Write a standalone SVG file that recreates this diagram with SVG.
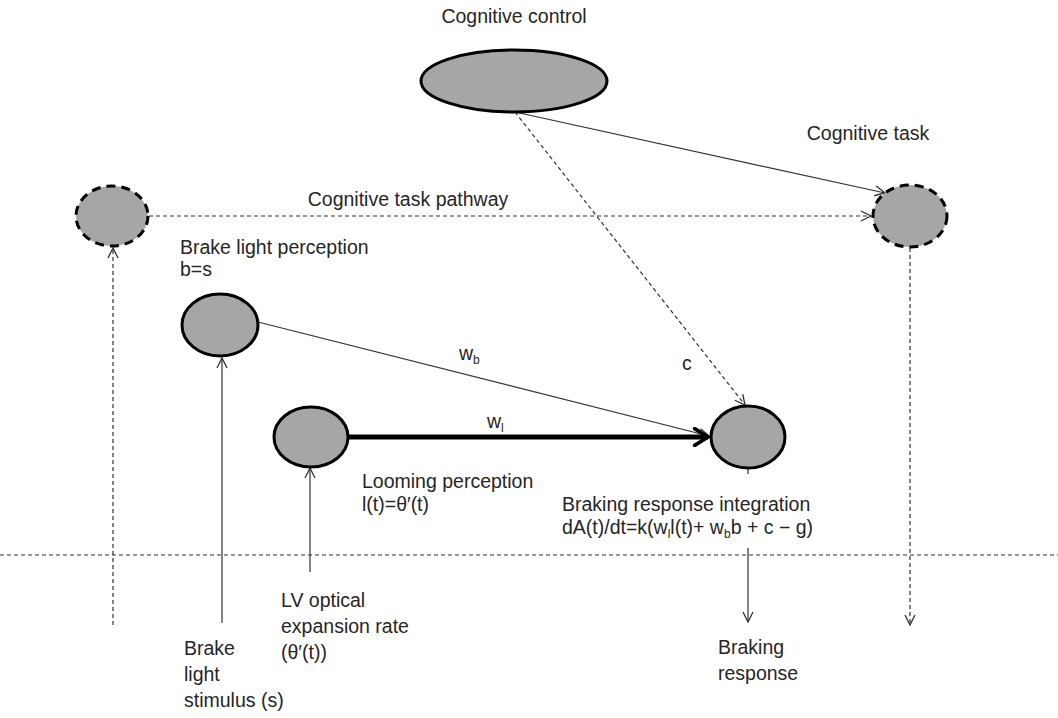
<svg xmlns="http://www.w3.org/2000/svg" width="1058" height="718" viewBox="0 0 1058 718">
  <style>
    text { font-family: "Liberation Sans", "DejaVu Sans", sans-serif; font-size: 19.5px; fill: #262626; }
    .sub { font-size: 12px; }
    .node { fill: #a6a6a6; stroke: #000; stroke-width: 3; }
    .dnode { fill: #a6a6a6; stroke: #000; stroke-width: 3; stroke-dasharray: 9 6; }
    .thin { fill: none; stroke: #333; stroke-width: 1.2; }
    .dash { fill: none; stroke: #333; stroke-width: 1.2; stroke-dasharray: 4 3; }
    .thick { fill: none; stroke: #000; stroke-width: 5; }
  </style>
  <defs>
    <marker id="open" viewBox="0 0 12 12" refX="11" refY="6" markerWidth="12" markerHeight="12" markerUnits="userSpaceOnUse" orient="auto">
      <path d="M1 1 L11 6 L1 11" fill="none" stroke="#333" stroke-width="1.3"/>
    </marker>
    <marker id="openBold" viewBox="0 0 12 12" refX="10" refY="6" markerWidth="4" markerHeight="4" orient="auto">
      <path d="M2 1 L10 6 L2 11" fill="none" stroke="#000" stroke-width="2.2" stroke-linecap="round"/>
    </marker>
  </defs>

  <!-- separator between model and environment -->
  <line x1="0" y1="555" x2="1058" y2="555" class="dash"/>

  <g id="connectors">
    <line x1="149" y1="216" x2="871" y2="216" class="dash" marker-end="url(#open)"/>
    <line x1="515" y1="112" x2="885" y2="193" class="thin" marker-end="url(#open)"/>
    <line x1="515" y1="112" x2="745" y2="405" class="dash" marker-end="url(#open)"/>
    <line x1="258" y1="322" x2="709" y2="436" class="thin" marker-end="url(#open)"/>
    <line x1="348" y1="437" x2="708" y2="437" class="thick" marker-end="url(#openBold)"/>
    <line x1="113" y1="625" x2="113" y2="248" class="dash" marker-end="url(#open)"/>
    <line x1="222" y1="623" x2="222" y2="358" class="thin" marker-end="url(#open)"/>
    <line x1="310" y1="572" x2="310" y2="468" class="thin" marker-end="url(#open)"/>
    <line x1="748" y1="468" x2="748" y2="474" class="thin"/>
    <line x1="748" y1="548" x2="748" y2="622" class="thin" marker-end="url(#open)"/>
    <line x1="910" y1="248" x2="910" y2="625" class="dash" marker-end="url(#open)"/>
    <text x="459" y="360">w<tspan class="sub" dy="4">b</tspan></text>
    <text x="487" y="428">w<tspan class="sub" dy="4">l</tspan></text>
    <text x="682" y="370">c</text>
  </g>

  <g id="cognitive-control">
    <ellipse cx="514" cy="81" rx="93" ry="31" class="node"/>
    <text x="514" y="23" text-anchor="middle">Cognitive control</text>
  </g>

  <g id="cognitive-task-source">
    <ellipse cx="112" cy="216" rx="36" ry="30" class="dnode"/>
    <text x="408" y="206" text-anchor="middle">Cognitive task pathway</text>
  </g>

  <g id="cognitive-task">
    <ellipse cx="910" cy="216" rx="37" ry="31" class="dnode"/>
    <text x="868" y="140" text-anchor="middle">Cognitive task</text>
  </g>

  <g id="brake-light-perception">
    <ellipse cx="220" cy="325" rx="38" ry="31" class="node"/>
    <text x="180" y="254">Brake light perception</text>
    <text x="180" y="276">b=s</text>
  </g>

  <g id="looming-perception">
    <ellipse cx="311" cy="437" rx="37" ry="30" class="node"/>
    <text x="362" y="488">Looming perception</text>
    <text x="362" y="511">l(t)=θ′(t)</text>
  </g>

  <g id="braking-integration">
    <ellipse cx="748" cy="437" rx="37" ry="31" class="node"/>
    <text x="562" y="511">Braking response integration</text>
    <text x="562" y="534">dA(t)/dt=k(w<tspan class="sub" dy="4">l</tspan><tspan dy="-4">l(t)+ w</tspan><tspan class="sub" dy="4">b</tspan><tspan dy="-4">b + c − g)</tspan></text>
  </g>

  <g id="brake-light-stimulus">
    <text x="184" y="655">Brake</text>
    <text x="184" y="681">light</text>
    <text x="184" y="707">stimulus (s)</text>
  </g>

  <g id="optical-expansion">
    <text x="281" y="607">LV optical</text>
    <text x="281" y="633">expansion rate</text>
    <text x="281" y="659">(θ′(t))</text>
  </g>

  <g id="braking-response">
    <text x="718" y="654">Braking</text>
    <text x="718" y="680">response</text>
  </g>
</svg>
